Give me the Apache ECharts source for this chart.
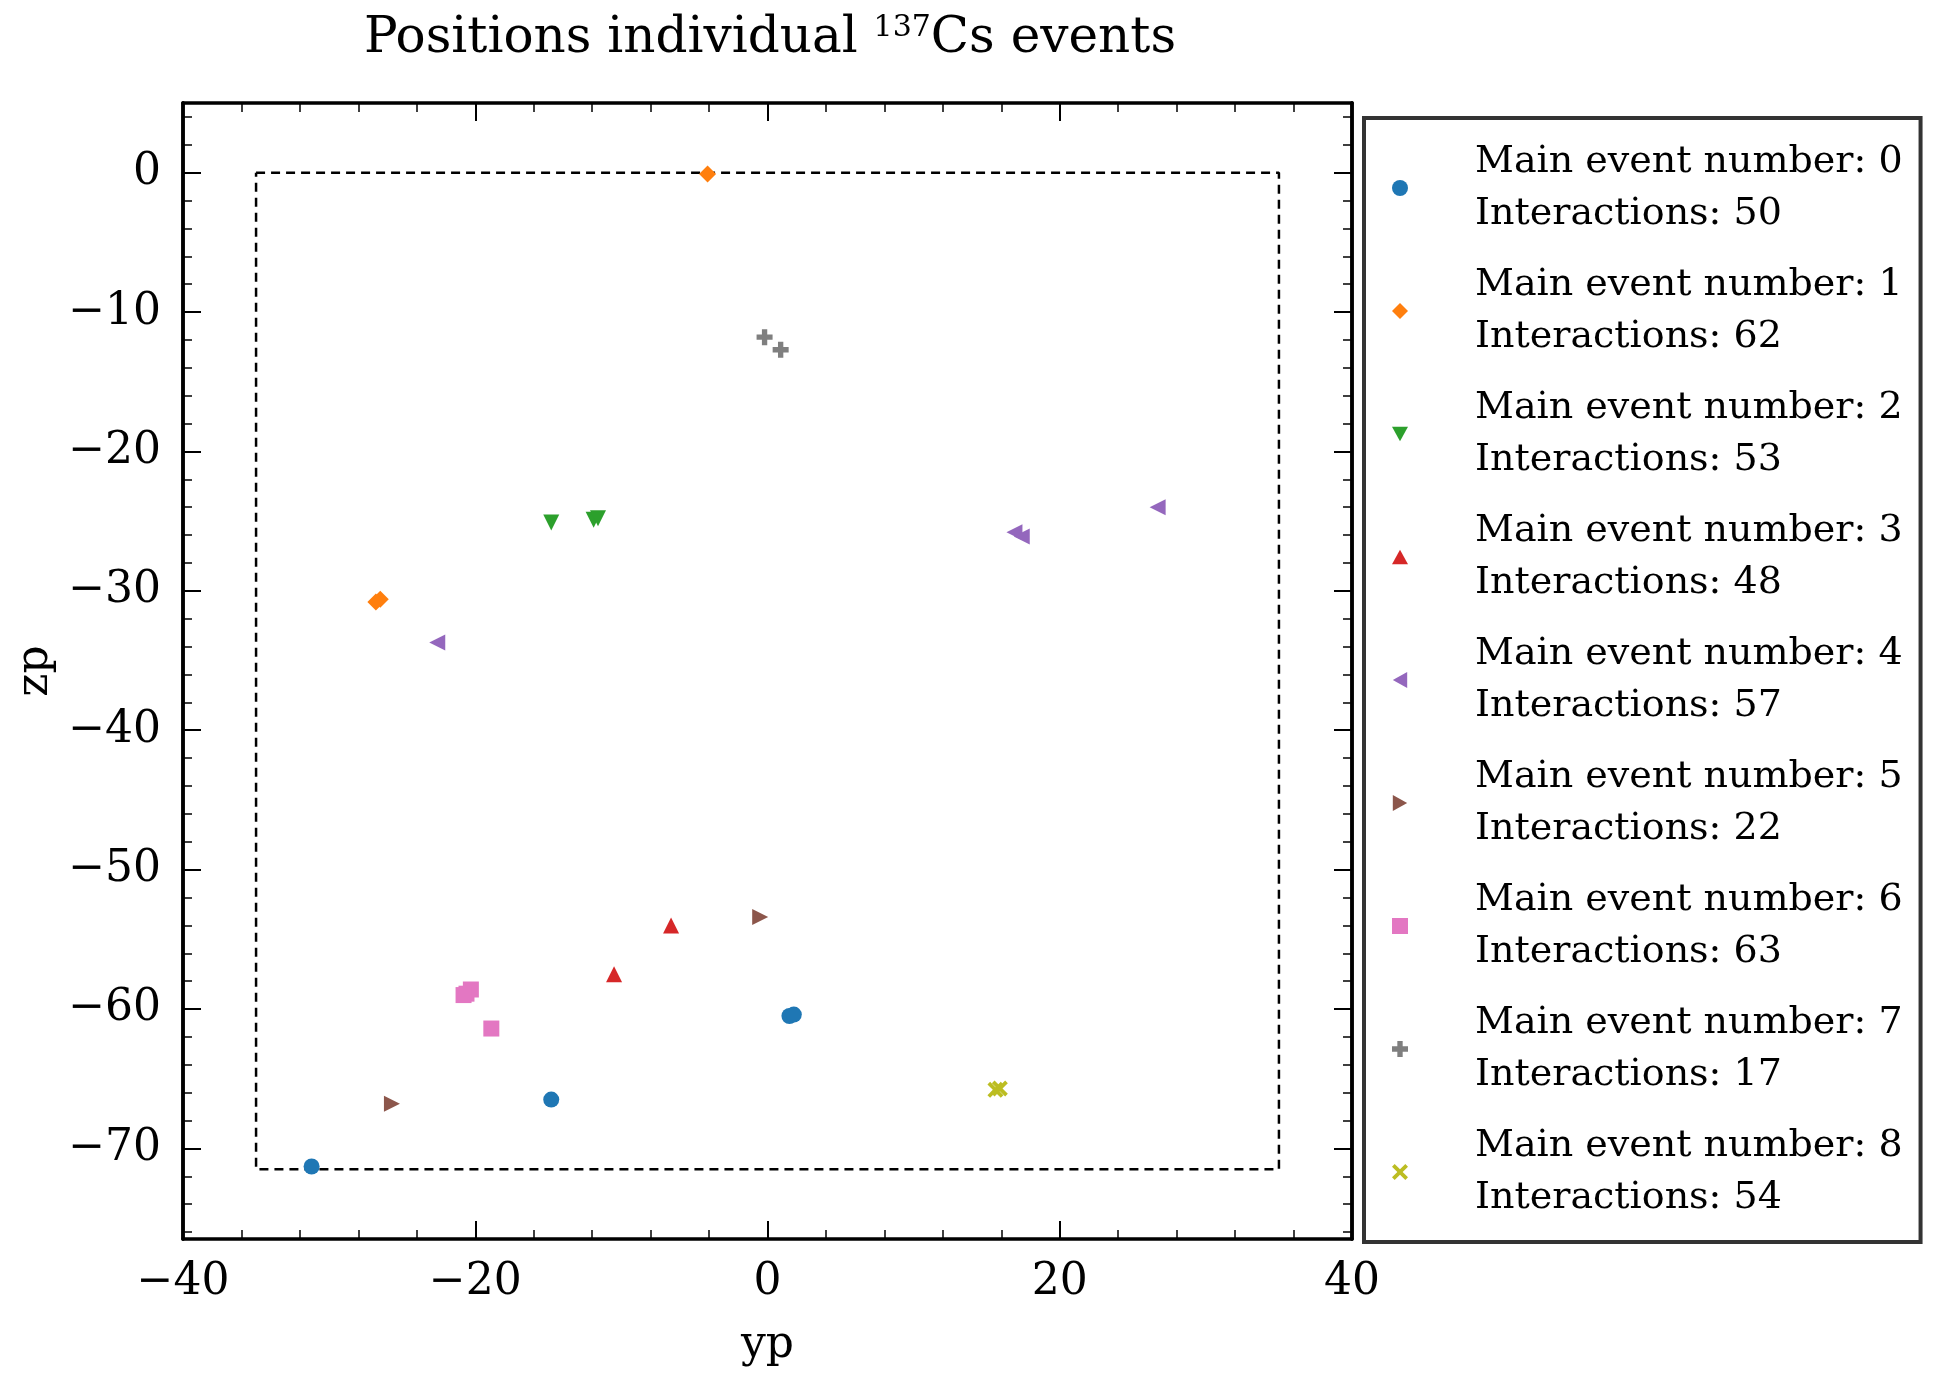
<!DOCTYPE html>
<html><head><meta charset="utf-8">
<script src="https://cdn.jsdelivr.net/npm/echarts@6/dist/echarts.min.js"></script>
<style>html,body{margin:0;background:#fff}#c{width:1957px;height:1381px}</style>
</head><body><div id="c"></div>
<script>
// data: [yp, zp]
var ev0 = [[-31.2, -71.3], [-14.8, -66.5], [1.5, -60.5], [1.8, -60.4]];
var ev1 = [[-4.1, -0.1], [-26.5, -30.6], [-26.8, -30.8]];
var ev2 = [[-14.8, -25.1], [-11.9, -24.9], [-11.6, -24.8]];
var ev3 = [[-6.6, -54.0], [-10.5, -57.5]];
var ev4 = [[-22.6, -33.7], [16.9, -25.8], [17.4, -26.1], [26.7, -24.0]];
var ev5 = [[-25.7, -66.8], [-0.5, -53.4]];
var ev6 = [[-20.6, -58.9], [-20.3, -58.6], [-18.9, -61.4], [-20.8, -59.0]];
var ev7 = [[-0.2, -11.8], [0.9, -12.7]];
var ev8 = [[15.6, -65.8], [15.9, -65.7]];
var interactions = [50, 62, 53, 48, 57, 22, 63, 17, 54];
var yMajor = [0, -10, -20, -30, -40, -50, -60, -70];
var yMinor = [4, 2, -2, -4, -6, -8, -12, -14, -16, -18, -22, -24, -26, -28, -32, -34, -36, -38,
  -42, -44, -46, -48, -52, -54, -56, -58, -62, -64, -66, -68, -72, -74, -76];
var detBox = [[-35, 0], [35, 0], [35, -71.5], [-35, -71.5], [-35, 0]];

var FONT = '"DejaVu Serif", "Liberation Serif", serif';
var colors = ['#1f77b4', '#ff7f0e', '#2ca02c', '#d62728', '#9467bd', '#8c564b', '#e377c2', '#7f7f7f', '#bcbd22'];
var plus = 'path://M-1,-3H1V-1H3V1H1V3H-1V1H-3V-1H-1Z';
var cross = 'path://M-3,-2L-2,-3L0,-1L2,-3L3,-2L1,0L3,2L2,3L0,1L-2,3L-3,2L-1,0Z';
var triDown = 'path://M0,0H10L5,9Z', triUp = 'path://M5,0L10,9H0Z';
var triLeft = 'path://M0,5L9,0V10Z', triRight = 'path://M0,0L9,5L0,10Z';
var syms = ['circle', 'diamond', triDown, triUp, triLeft, triRight, 'rect', plus, cross];
var events = [ev0, ev1, ev2, ev3, ev4, ev5, ev6, ev7, ev8];
var names = events.map(function (e, i) { return 'Main event number: ' + i + '\nInteractions: ' + interactions[i]; });

var series = events.map(function (d, i) {
  return {
    name: names[i], type: 'scatter', data: d, xAxisIndex: 0, yAxisIndex: 0,
    symbol: syms[i], symbolSize: i === 1 ? 17 : 16,
    itemStyle: {color: colors[i], opacity: 1}
  };
});
series.push({
  type: 'line', data: detBox, xAxisIndex: 0, yAxisIndex: 0, symbol: 'none', silent: true,
  lineStyle: {color: '#000', width: 2.5, type: [9, 6]}, z: 1
});

function xAx(pos, show) {
  return {
    type: 'value', position: pos, min: -40, max: 40, interval: 20,
    axisLine: {show: true, onZero: false, lineStyle: {color: '#000', width: 3.5}},
    axisTick: {show: true, inside: true, length: 18, lineStyle: {color: '#000', width: 2}},
    minorTick: {show: true, splitNumber: 5, length: 9, lineStyle: {color: '#000', width: 1.5}},
    splitLine: {show: false},
    axisLabel: {show: show, color: '#000', fontFamily: FONT, fontSize: 44, margin: 22,
      formatter: function (v) { return String(v).replace('-', '\u2212'); }},
    name: show ? 'yp' : '', nameLocation: 'middle', nameGap: 85,
    nameTextStyle: {color: '#000', fontFamily: FONT, fontSize: 44}
  };
}
function yAx(pos, show, minor) {
  var vals = minor ? yMinor : yMajor;
  return {
    type: 'value', position: pos, min: -76.5, max: 5,
    axisLine: {show: true, onZero: false, lineStyle: {color: '#000', width: 3.5}},
    axisTick: {show: true, inside: true, length: minor ? 9 : 18, customValues: vals,
      lineStyle: {color: '#000', width: minor ? 1.5 : 2}},
    splitLine: {show: false},
    axisLabel: {show: show, customValues: yMajor, color: '#000', fontFamily: FONT, fontSize: 44, margin: 22,
      formatter: function (v) { return String(v).replace('-', '\u2212'); }},
    name: show ? 'zp' : '', nameLocation: 'middle', nameGap: 125,
    nameTextStyle: {color: '#000', fontFamily: FONT, fontSize: 44}
  };
}

var chart = echarts.init(document.getElementById('c'));
chart.setOption({
  animation: false,
  backgroundColor: '#fff',
  title: {
    text: '{a|Positions individual }{s|137}{a|Cs events}', left: 765, top: 8, textAlign: 'center',
    textStyle: {rich: {
      a: {fontFamily: FONT, fontSize: 50, fontWeight: 'normal', color: '#000'},
      s: {fontFamily: FONT, fontSize: 30, fontWeight: 'normal', color: '#000', verticalAlign: 'top', padding: [0, 0, 22, 0]}
    }}
  },
  grid: {left: 183, right: 1957 - 1352, top: 103, height: 1136},
  xAxis: [xAx('bottom', true), xAx('top', false)],
  yAxis: [yAx('left', true, false), yAx('left', false, true), yAx('right', false, false), yAx('right', false, true)],
  legend: {
    data: names.map(function (n, i) { return {name: n, icon: syms[i]}; }),
    orient: 'vertical', left: 1364, top: 118,
    padding: [18, 18, 18, 28], itemGap: 19, itemWidth: 16, itemHeight: 16,
    borderColor: '#333', borderWidth: 4, borderRadius: 0, backgroundColor: '#fff',
    textStyle: {fontFamily: FONT, fontSize: 38, color: '#000', lineHeight: 52, padding: [0, 0, 0, 62]}
  },
  series: series
});
</script>
</body></html>
